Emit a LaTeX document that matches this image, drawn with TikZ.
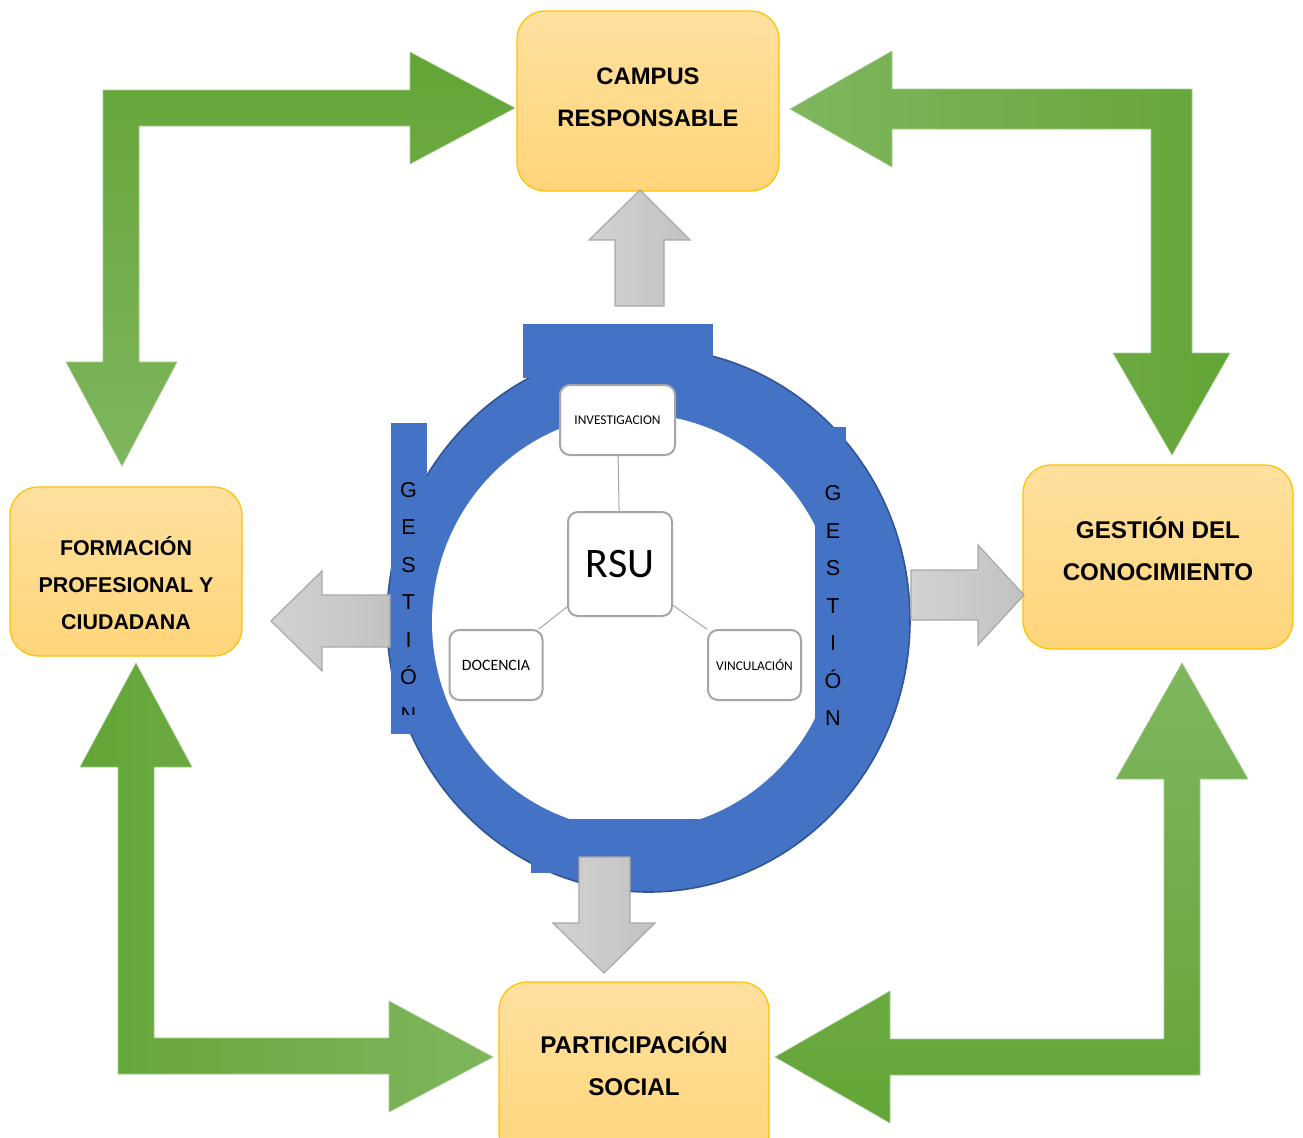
\documentclass[tikz,border=0pt]{standalone}
\usepackage{fontspec}
\setmainfont{Liberation Sans}
\newfontfamily\smallfont{Carlito}
\usepackage{tikz}
\definecolor{BoxTop}{HTML}{FFE09E}
\definecolor{BoxBottom}{HTML}{FFD57A}
\definecolor{BoxEdge}{HTML}{FFC000}
\definecolor{RingBlue}{HTML}{4472C4}
\definecolor{RingEdge}{HTML}{2F5597}
\definecolor{GreenDark}{HTML}{63A536}
\definecolor{GreenLight}{HTML}{7FB65E}
\definecolor{GreyLight}{HTML}{D2D2D2}
\definecolor{GreyDark}{HTML}{C2C2C2}
\definecolor{GreyEdge}{HTML}{A8A8A8}
\definecolor{NodeEdge}{HTML}{A6A6A6}

\begin{document}
\begin{tikzpicture}[
  x=0.5pt, y=-0.5pt,
  box/.style={draw=BoxEdge, line width=0.6pt, rounded corners=14pt, top color=BoxTop, bottom color=BoxBottom, inner sep=0pt},
  boxtext/.style={align=center, inner sep=0pt, font=\fontsize{12.1}{21}\selectfont\bfseries},
  bigarrow/.style={draw=GreenLight!70!white, line width=0.3pt},
  greyarrow/.style={draw=GreyEdge, line width=0.6pt, left color=GreyLight, right color=GreyDark},
  smallbox/.style={draw=NodeEdge, line width=1pt, fill=white, rounded corners=5pt, inner sep=0pt, align=center},
  link/.style={draw=NodeEdge, line width=0.5pt},
  letters/.style={align=center, inner sep=0pt, font=\fontsize{10.8}{18.75}\selectfont}
]
  \useasboundingbox (0,0) rectangle (1303,1137);
  \clip (0,0) rectangle (1303,1137);

  \path[bigarrow, top color=GreenDark, bottom color=GreenLight]
    (103,362) -- (103,90) -- (410,90) -- (410,52) -- (515,108) -- (410,164) -- (410,126)
    -- (139,126) -- (139,362) -- (177,362) -- (122,466) -- (66,362) -- cycle;
  \path[bigarrow, left color=GreenLight, right color=GreenDark]
    (892,89) -- (1192,89) -- (1192,353) -- (1230,353) -- (1172,455) -- (1113,353) -- (1151,353)
    -- (1151,129) -- (892,129) -- (892,167) -- (790,109) -- (892,51) -- cycle;
  \path[bigarrow, left color=GreenDark, right color=GreenLight]
    (118,767) -- (80,767) -- (136,663) -- (192,767) -- (154,767) -- (154,1038) -- (389,1038)
    -- (389,1001) -- (493,1057) -- (389,1112) -- (389,1074) -- (118,1074) -- cycle;
  \path[bigarrow, top color=GreenLight, bottom color=GreenDark]
    (1164,779) -- (1116,779) -- (1182,663) -- (1248,779) -- (1200,779) -- (1200,1075) -- (890,1075)
    -- (890,1123) -- (775,1057) -- (890,991) -- (890,1039) -- (1164,1039) -- cycle;

  \node[box, minimum width=131pt, minimum height=90pt] (campus) at (648,101) {};
  \node[box, minimum width=135pt, minimum height=92pt] (conocimiento) at (1158,557) {};
  \node[box, minimum width=116pt, minimum height=84.5pt] (formacion) at (126,571.5) {};
  \node[box, minimum width=135pt, minimum height=90pt] (participacion) at (634,1072) {};
  \node[boxtext, font=\fontsize{11.9}{21}\selectfont\bfseries] (campusT) at (648,97) {CAMPUS\\RESPONSABLE};
  \node[boxtext] (conocimientoT) at (1158,549) {GESTIÓN DEL\\CONOCIMIENTO};
  \node[boxtext, font=\fontsize{10.7}{18.5}\selectfont\bfseries] (formacionT) at (126,583.5) {FORMACIÓN\\PROFESIONAL Y\\CIUDADANA};
  \node[boxtext] (participacionT) at (634,1064) {PARTICIPACIÓN\\SOCIAL};

  \fill[RingBlue, draw=RingEdge, line width=0.8pt] (648.5,620) ellipse [x radius=261.5, y radius=272];
  \fill[white] (635,622) ellipse [x radius=203, y radius=208];
  \fill[RingBlue] (523,324) rectangle (713,378);
  \fill[RingBlue] (391,423) rectangle (427,734);
  \fill[RingBlue] (815,427) rectangle (846,742);
  \fill[RingBlue] (531,819) rectangle (725,873);

  \begin{scope}
    \clip (391,423) rectangle (427,714);
    \node[letters] (gestionL) at (408.5,602) {G\\E\\S\\T\\I\\Ó\\N};
  \end{scope}
  \node[letters] (gestionR) at (833,605.5) {G\\E\\S\\T\\I\\Ó\\N};

  \node[smallbox, minimum width=57.5pt, minimum height=35pt, font=\smallfont\fontsize{6.7}{8}\selectfont] (investigacion) at (617.5,420) {INVESTIGACION};
  \node[smallbox, minimum width=52pt, minimum height=52pt, font=\smallfont\fontsize{21}{25}\selectfont] (rsu) at (620,564) {RSU};
  \node[smallbox, minimum width=46.5pt, minimum height=35pt, font=\smallfont\fontsize{7.9}{9}\selectfont] (docencia) at (496,665) {DOCENCIA};
  \node[smallbox, minimum width=46.5pt, minimum height=35pt, font=\smallfont\fontsize{6.7}{8}\selectfont] (vinculacion) at (754.5,665) {VINCULACIÓN};

  \draw[link] (investigacion) -- (rsu);
  \draw[link] (rsu.219) -- (docencia.40);
  \draw[link] (rsu.322) -- (vinculacion.143);

  \path[greyarrow] (615,306) -- (615,240) -- (589,240) -- (640,190) -- (690,240) -- (664,240) -- (664,306) -- cycle;
  \path[greyarrow] (579,857) -- (630,857) -- (630,923) -- (655,923) -- (604,973) -- (553,923) -- (579,923) -- cycle;
  \path[greyarrow] (390,595) -- (322,595) -- (322,571) -- (271,621) -- (322,671) -- (322,647) -- (390,647) -- cycle;
  \path[greyarrow] (911,570) -- (978,570) -- (978,545) -- (1024,595) -- (978,645) -- (978,620) -- (911,620) -- cycle;
\end{tikzpicture}
\end{document}
